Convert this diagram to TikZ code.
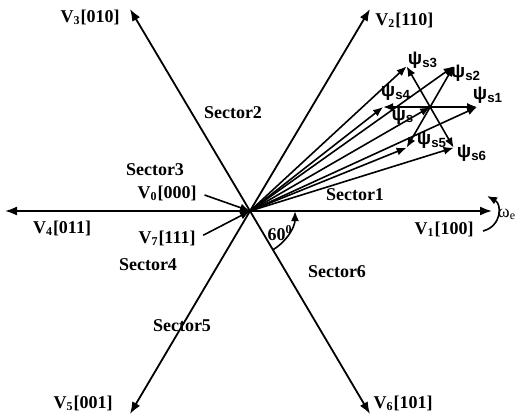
\documentclass[tikz,border=0pt]{standalone}
\usepackage{fontspec}
\setmainfont{Liberation Serif}
\newfontfamily\psifont{Liberation Sans}
\usetikzlibrary{arrows.meta,calc}

\newcommand{\psis}[1]{{\psifont\fontsize{9.5}{11}\selectfont ψ\textsubscript{\bfseries #1}}}

\begin{document}
\begin{tikzpicture}[x=0.5pt, y=0.5pt, every node/.style={font=\bfseries\fontsize{9}{10}\selectfont, inner sep=1pt}, >={Latex[length=5pt,width=4pt]}, axis/.style={-{Latex[length=6pt,width=4.5pt]}, line width=0.9pt}, flux/.style={->, line width=0.8pt}]
	\useasboundingbox (0,0) rectangle (519,419);
	% voltage vectors
	\coordinate (O) at (250,208);
	\coordinate (V1) at (492,208);
	\coordinate (V2) at (370,410);
	\coordinate (V3) at (130,410);
	\coordinate (V4) at (5,208);
	\coordinate (V5) at (130,5);
	\coordinate (V6) at (370,5);
	\foreach \v in {V1,V2,V3,V4,V5,V6} \draw[axis] (O) -- (\v);
	\node (v1) at (444,190) {V\textsubscript{1}[100]};
	\node[anchor=west] (v2) at (373,399) {V\textsubscript{2}[110]};
	\node (v3) at (90,402) {V\textsubscript{3}[010]};
	\node (v4) at (62,191) {V\textsubscript{4}[011]};
	\node (v5) at (83,16) {V\textsubscript{5}[001]};
	\node (v6) at (403,16) {V\textsubscript{6}[101]};
	\node (v0) at (167,226) {V\textsubscript{0}[000]};
	\node (v7) at (167,181) {V\textsubscript{7}[111]};
	\draw[flux, shorten <=3pt] (v0.east) -- (O);
	\draw[flux, shorten <=3pt] (v7.east) -- (O);
	% sectors
	\node (s1) at (355,224) {Sector1};
	\node (s2) at (233,306) {Sector2};
	\node (s3) at (155,249) {Sector3};
	\node (s4) at (148,154) {Sector4};
	\node (s5) at (182,93) {Sector5};
	\node (s6) at (337,147) {Sector6};
	% angle and rotation
	\draw[flux] ($(O)+(-60:45)$) arc[start angle=-60, end angle=0, radius=45];
	\node (ang) at (280,186) {60\textsuperscript{0}};
	\coordinate (w1) at (483,188);
	\coordinate (w2) at (487,223);
	\draw[flux] (w1) .. controls (502,193) and (502,215) .. (w2);
	\node[font=\fontsize{9}{10}\selectfont] (we) at (507,205) {ω\textsubscript{e}};
	% stator flux
	\coordinate (P) at ($(O)+(30:208)$);
	\foreach \k/\a in {1/0,2/60,3/120,4/180,5/240,6/300} {
		\coordinate (P\k) at ($(P)+(\a:47)$);
		\draw[flux] (O) -- (P\k);
		\draw[flux] (P) -- (P\k);
	}
	\draw[flux] (O) -- (P);
	\node (ps) at (403,303) {\psis{s}};
	\node (ps1) at (488,324) {\psis{s1}};
	\node (ps2) at (466,346) {\psis{s2}};
	\node (ps3) at (423,359) {\psis{s3}};
	\node (ps4) at (396,327) {\psis{s4}};
	\node (ps5) at (432,279) {\psis{s5}};
	\node (ps6) at (472,266) {\psis{s6}};
\end{tikzpicture}
\end{document}
